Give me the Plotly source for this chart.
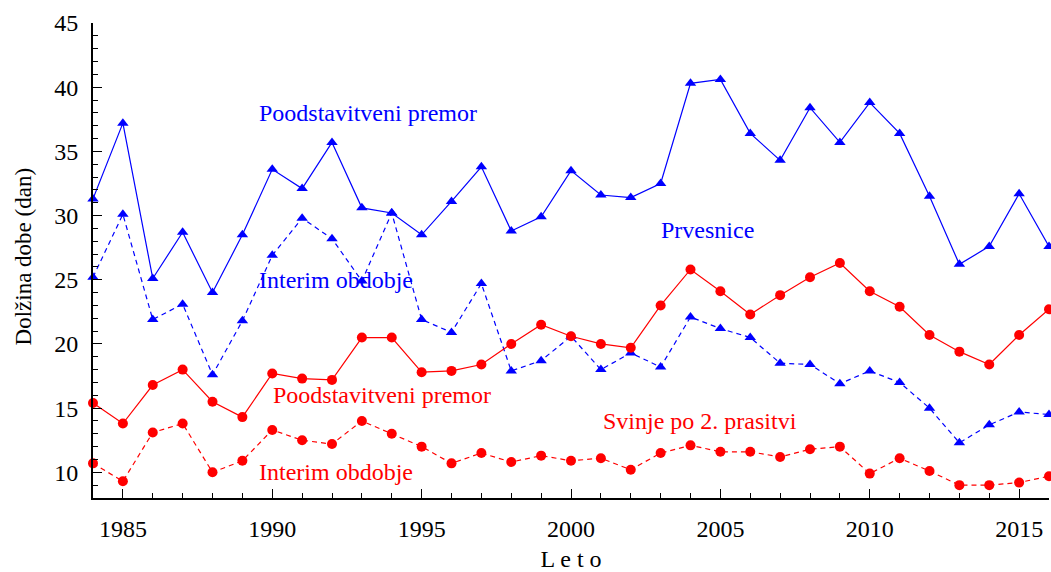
import plotly.graph_objects as go

years = list(range(1984, 2017))

prv_poodst = [31.3, 37.2, 25.1, 28.7, 24.0, 28.5, 33.6, 32.1, 35.7, 30.6, 30.2,
              28.5, 31.1, 33.8, 28.8, 29.9, 33.5, 31.6, 31.4, 32.5, 40.3, 40.6,
              36.4, 34.3, 38.4, 35.7, 38.8, 36.4, 31.5, 26.2, 27.6, 31.7, 27.6]
prv_interim = [25.2, 30.1, 21.9, 23.1, 17.6, 21.8, 26.9, 29.8, 28.2, 24.9, 30.2,
               21.9, 20.9, 24.7, 17.9, 18.7, 20.6, 18.0, 19.3, 18.2, 22.1, 21.2,
               20.5, 18.5, 18.4, 16.9, 17.9, 17.0, 15.0, 12.3, 13.7, 14.7, 14.5]
sv_poodst = [15.4, 13.8, 16.8, 18.0, 15.5, 14.3, 17.7, 17.3, 17.2, 20.5, 20.5,
             17.8, 17.9, 18.4, 20.0, 21.5, 20.6, 20.0, 19.7, 23.0, 25.8, 24.1,
             22.3, 23.8, 25.2, 26.3, 24.1, 22.9, 20.7, 19.4, 18.4, 20.7, 22.7]
sv_interim = [10.7, 9.3, 13.1, 13.8, 10.0, 10.9, 13.3, 12.5, 12.2, 14.0, 13.0,
              12.0, 10.7, 11.5, 10.8, 11.3, 10.9, 11.1, 10.2, 11.5, 12.1, 11.6,
              11.6, 11.2, 11.8, 12.0, 9.9, 11.1, 10.1, 9.0, 9.0, 9.2, 9.7]

labels = [
    ("Poodstavitveni premor", 1989.5, 38.0, "blue"),
    ("Prvesnice", 2002.95, 28.9, "blue"),
    ("Interim obdobje", 1989.5, 25.0, "blue"),
    ("Poodstavitveni premor", 1989.95, 16.0, "red"),
    ("Svinje po 2. prasitvi", 2001.0, 14.0, "red"),
    ("Interim obdobje", 1989.5, 10.0, "red"),
]

FONT = "Liberation Serif"
fig = go.Figure()

series = [
    (prv_poodst, "blue", "solid", "triangle-up", 10),
    (prv_interim, "blue", "5px,4px", "triangle-up", 10),
    (sv_poodst, "red", "solid", "circle", 10),
    (sv_interim, "red", "5px,4px", "circle", 10),
]
for vals, col, dash, sym, sz in series:
    fig.add_trace(go.Scatter(
        x=years, y=vals, mode="lines+markers",
        line=dict(color=col, width=1.2, dash=dash),
        marker=dict(color=col, symbol=sym, size=sz),
        cliponaxis=False, showlegend=False, hoverinfo="skip",
    ))

for text, x, y, col in labels:
    fig.add_annotation(x=x, y=y, text=text, showarrow=False, xanchor="left",
                       yanchor="middle", font=dict(family=FONT, size=24, color=col))

# y-axis title
fig.add_annotation(xref="paper", yref="paper", x=-0.073, y=0.509,
                   text="Dolžina dobe (dan)", textangle=-90, showarrow=False,
                   xanchor="center", yanchor="middle",
                   font=dict(family=FONT, size=23, color="black"))

fig.update_layout(
    width=1051, height=572,
    margin=dict(l=93, r=2, t=23, b=72),
    paper_bgcolor="white", plot_bgcolor="white",
    font=dict(family=FONT, size=24, color="black"),
    xaxis=dict(
        range=[1984, 2016], tick0=1985, dtick=5, showgrid=False, zeroline=False,
        showline=True, linecolor="black", linewidth=2,
        ticks="inside", ticklen=9, tickwidth=1.3, tickcolor="black",
        ticklabelstandoff=8,
        minor=dict(ticks="inside", ticklen=5, dtick=1, tick0=1984, tickcolor="black", tickwidth=1.3),
        title=dict(text="L e t o", font=dict(size=24), standoff=11),
        tickfont=dict(size=24),
    ),
    yaxis=dict(
        range=[8, 45], tick0=10, dtick=5, showgrid=False, zeroline=False,
        showline=True, linecolor="black", linewidth=2,
        ticks="inside", ticklen=9, tickwidth=1.3, tickcolor="black",
        ticklabelstandoff=8,
        minor=dict(ticks="inside", ticklen=5, dtick=1, tick0=8, tickcolor="black", tickwidth=1.3),
        tickfont=dict(size=24),
    ),
)

fig.write_html("out.html", config={"displayModeBar": False},
               post_script="document.body.style.margin='0';")
